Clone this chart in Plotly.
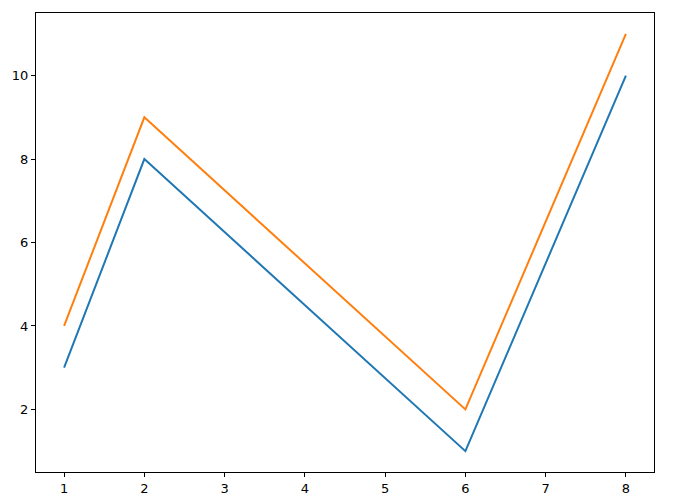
import plotly.graph_objects as go

x = [1, 2, 6, 8]
y_blue = [3, 8, 1, 10]
y_orange = [4, 9, 2, 11]
x_ticks = [1, 2, 3, 4, 5, 6, 7, 8]
y_ticks = [2, 4, 6, 8, 10]

fig = go.Figure()
fig.add_trace(go.Scatter(x=x, y=y_blue, mode="lines", line=dict(color="#1f77b4", width=2)))
fig.add_trace(go.Scatter(x=x, y=y_orange, mode="lines", line=dict(color="#ff7f0e", width=2)))

axis_common = dict(
    showline=True, mirror=True, linecolor="black", linewidth=1,
    showgrid=False, zeroline=False, ticks="outside", ticklen=4,
    tickcolor="black", tickwidth=1,
    tickfont=dict(family="DejaVu Sans", size=13, color="black"),
)
fig.update_xaxes(range=[0.65, 8.35], tickvals=x_ticks, **axis_common)
fig.update_yaxes(range=[0.5, 11.5], tickvals=y_ticks, **axis_common)

fig.update_layout(
    width=666, height=495,
    margin=dict(l=26, r=20, t=4, b=31),
    paper_bgcolor="white", plot_bgcolor="white",
    showlegend=False,
)
fig.write_html("out.html")
